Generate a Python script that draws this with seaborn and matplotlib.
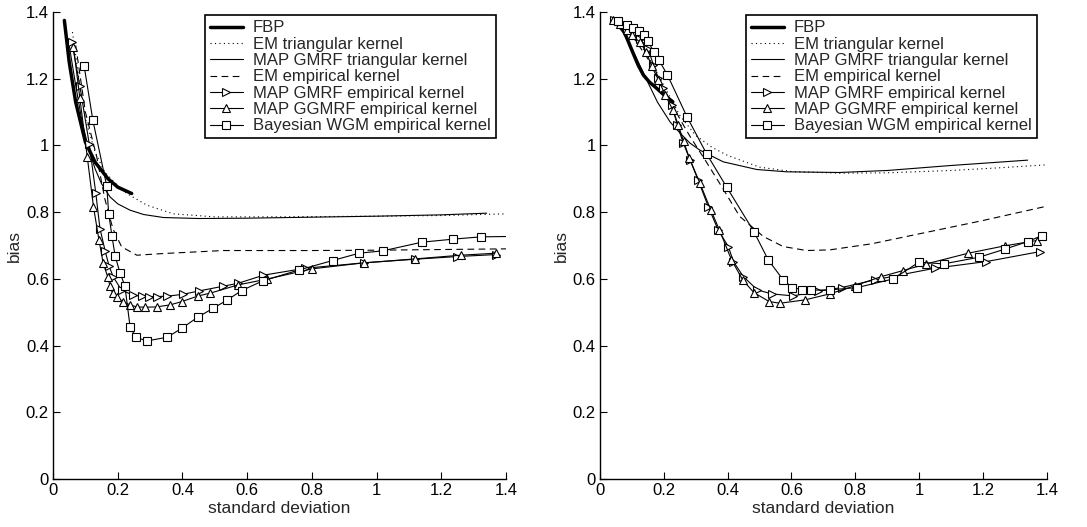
import matplotlib
matplotlib.use("Agg")
import matplotlib.pyplot as plt
import seaborn as sns

# ---- left panel ----
fbp_x_l = [0.035, 0.05, 0.07, 0.1, 0.13, 0.17, 0.2, 0.243]
fbp_y_l = [1.375, 1.25, 1.13, 1.01, 0.95, 0.9, 0.875, 0.856]

emtri_x_l = [0.06, 0.08, 0.1, 0.13, 0.16, 0.2, 0.228, 0.29, 0.372, 0.5, 0.7, 1.0, 1.2, 1.4]
emtri_y_l = [1.34, 1.2, 1.08, 0.98, 0.92, 0.88, 0.856, 0.821, 0.795, 0.786, 0.786, 0.788, 0.79, 0.795]

maptri_x_l = [0.05, 0.07, 0.09, 0.11, 0.13, 0.15, 0.176, 0.2, 0.238, 0.28, 0.341, 0.45, 0.6, 0.8, 1.0, 1.2, 1.34]
maptri_y_l = [1.3, 1.18, 1.07, 0.99, 0.93, 0.885, 0.846, 0.825, 0.806, 0.793, 0.784, 0.781, 0.782, 0.785, 0.788, 0.792, 0.797]

ememp_x_l = [0.07, 0.1, 0.135, 0.16, 0.185, 0.212, 0.259, 0.341, 0.526, 0.8, 1.0, 1.2, 1.4]
ememp_y_l = [1.3, 1.1, 0.966, 0.84, 0.75, 0.696, 0.671, 0.676, 0.685, 0.685, 0.686, 0.688, 0.69]

gmrf_x_l = [0.058, 0.083, 0.112, 0.132, 0.145, 0.161, 0.173, 0.186, 0.212, 0.248, 0.274, 0.298,
            0.32, 0.353, 0.403, 0.452, 0.526, 0.573, 0.65, 0.78, 0.96, 1.12, 1.25, 1.37]
gmrf_y_l = [1.311, 1.178, 1.004, 0.858, 0.751, 0.684, 0.639, 0.606, 0.566, 0.551, 0.548, 0.547,
            0.547, 0.548, 0.554, 0.564, 0.578, 0.587, 0.611, 0.632, 0.648, 0.659, 0.667, 0.673]

ggmrf_x_l = [0.063, 0.083, 0.106, 0.125, 0.142, 0.155, 0.169, 0.176, 0.184, 0.199, 0.215, 0.238, 0.259,
             0.284, 0.32, 0.362, 0.398, 0.449, 0.485, 0.572, 0.66, 0.8, 0.96, 1.12, 1.26, 1.37]
ggmrf_y_l = [1.296, 1.141, 0.964, 0.816, 0.716, 0.647, 0.606, 0.579, 0.557, 0.545, 0.532, 0.522, 0.516,
             0.515, 0.516, 0.522, 0.532, 0.549, 0.557, 0.582, 0.599, 0.63, 0.648, 0.66, 0.671, 0.677]

wgm_x_l = [0.096, 0.123, 0.166, 0.172, 0.182, 0.192, 0.207, 0.222, 0.238, 0.256, 0.29, 0.353, 0.398,
           0.447, 0.495, 0.539, 0.583, 0.648, 0.761, 0.864, 0.946, 1.019, 1.14, 1.235, 1.322, 1.4]
wgm_y_l = [1.239, 1.076, 0.878, 0.796, 0.729, 0.668, 0.618, 0.579, 0.457, 0.425, 0.414, 0.425, 0.452,
           0.485, 0.512, 0.537, 0.565, 0.594, 0.627, 0.655, 0.677, 0.684, 0.71, 0.719, 0.726, 0.727]

# ---- right panel ----
fbp_x_r = [0.042, 0.068, 0.085, 0.104, 0.12, 0.136, 0.155, 0.178, 0.2, 0.228]
fbp_y_r = [1.374, 1.356, 1.32, 1.276, 1.24, 1.211, 1.19, 1.171, 1.152, 1.131]

emtri_x_r = [0.05, 0.1, 0.15, 0.2, 0.25, 0.3, 0.35, 0.4, 0.5, 0.6, 0.75, 0.9, 1.1, 1.25, 1.4]
emtri_y_r = [1.375, 1.34, 1.27, 1.18, 1.09, 1.03, 0.995, 0.97, 0.935, 0.922, 0.917, 0.918, 0.925, 0.933, 0.942]

maptri_x_r = [0.04, 0.08, 0.11, 0.141, 0.18, 0.22, 0.251, 0.282, 0.313, 0.386, 0.491, 0.585, 0.75, 0.9, 1.1, 1.34]
maptri_y_r = [1.375, 1.33, 1.27, 1.207, 1.13, 1.07, 1.037, 1.007, 0.986, 0.951, 0.928, 0.921, 0.919, 0.925, 0.94, 0.956]

ememp_x_r = [0.05, 0.1, 0.15, 0.2, 0.25, 0.282, 0.329, 0.381, 0.438, 0.512, 0.574, 0.647, 0.72, 0.85, 1.0, 1.2, 1.4]
ememp_y_r = [1.375, 1.33, 1.26, 1.17, 1.08, 1.027, 0.957, 0.877, 0.787, 0.727, 0.697, 0.685, 0.687, 0.705, 0.735, 0.775, 0.818]

gmrf_x_r = [0.045, 0.065, 0.085, 0.105, 0.125, 0.151, 0.167, 0.183, 0.198, 0.225, 0.242, 0.261, 0.282, 0.308,
            0.339, 0.37, 0.402, 0.418, 0.449, 0.493, 0.538, 0.605, 0.684, 0.757, 0.861, 1.049, 1.211, 1.38]
gmrf_y_r = [1.375, 1.365, 1.35, 1.335, 1.32, 1.29, 1.242, 1.202, 1.172, 1.122, 1.062, 1.007, 0.957, 0.895,
            0.817, 0.747, 0.697, 0.652, 0.607, 0.567, 0.555, 0.549, 0.563, 0.574, 0.597, 0.632, 0.652, 0.682]

ggmrf_x_r = [0.04, 0.063, 0.085, 0.1, 0.125, 0.145, 0.162, 0.183, 0.205, 0.228, 0.245, 0.262, 0.28, 0.313, 0.347,
             0.374, 0.412, 0.447, 0.482, 0.53, 0.564, 0.642, 0.72, 0.80, 0.882, 0.95, 1.023, 1.154, 1.268, 1.368]
ggmrf_y_r = [1.377, 1.365, 1.345, 1.33, 1.31, 1.28, 1.237, 1.197, 1.15, 1.107, 1.062, 1.012, 0.962, 0.887, 0.807,
             0.747, 0.657, 0.597, 0.559, 0.532, 0.527, 0.537, 0.555, 0.58, 0.607, 0.625, 0.645, 0.677, 0.699, 0.715]

wgm_x_r = [0.057, 0.084, 0.104, 0.123, 0.138, 0.151, 0.169, 0.185, 0.211, 0.273, 0.334, 0.397, 0.482, 0.527,
           0.574, 0.603, 0.634, 0.661, 0.72, 0.806, 0.919, 0.999, 1.077, 1.188, 1.268, 1.341, 1.385]
wgm_y_r = [1.372, 1.362, 1.352, 1.342, 1.332, 1.312, 1.279, 1.255, 1.212, 1.085, 0.975, 0.875, 0.742, 0.657,
           0.597, 0.574, 0.568, 0.566, 0.567, 0.574, 0.6, 0.65, 0.645, 0.665, 0.689, 0.712, 0.73]

labels = ["FBP", "EM triangular kernel", "MAP GMRF triangular kernel", "EM empirical kernel",
          "MAP GMRF empirical kernel", "MAP GGMRF empirical kernel", "Bayesian WGM empirical kernel"]

sns.set_style("ticks")
plt.rcParams["font.family"] = ["Liberation Sans", "DejaVu Sans"]

fig = plt.figure(figsize=(10.87, 5.27), dpi=100)
ax_l = fig.add_axes([0.0488, 0.0911, 0.4167, 0.886])
ax_r = fig.add_axes([0.552, 0.0911, 0.411, 0.886])

mk = dict(markerfacecolor="white", markeredgecolor="k", markeredgewidth=0.8, markersize=5.5)


def line(ax, x, y, label, **kw):
    sns.lineplot(x=x, y=y, ax=ax, sort=False, estimator=None, color="k", label=label, **kw)


panels = [
    (ax_l, [(fbp_x_l, fbp_y_l), (emtri_x_l, emtri_y_l), (maptri_x_l, maptri_y_l), (ememp_x_l, ememp_y_l),
            (gmrf_x_l, gmrf_y_l), (ggmrf_x_l, ggmrf_y_l), (wgm_x_l, wgm_y_l)]),
    (ax_r, [(fbp_x_r, fbp_y_r), (emtri_x_r, emtri_y_r), (maptri_x_r, maptri_y_r), (ememp_x_r, ememp_y_r),
            (gmrf_x_r, gmrf_y_r), (ggmrf_x_r, ggmrf_y_r), (wgm_x_r, wgm_y_r)]),
]

for ax, series in panels:
    (x0, y0), (x1, y1), (x2, y2), (x3, y3), (x4, y4), (x5, y5), (x6, y6) = series
    line(ax, x0, y0, labels[0], linewidth=2.5)
    line(ax, x1, y1, labels[1], linewidth=0.8, linestyle=(0, (1, 3)))
    line(ax, x2, y2, labels[2], linewidth=0.8)
    line(ax, x3, y3, labels[3], linewidth=0.8, linestyle=(0, (6, 4)))
    line(ax, x4, y4, labels[4], linewidth=0.8, marker=">", **mk)
    line(ax, x5, y5, labels[5], linewidth=0.8, marker="^", **mk)
    line(ax, x6, y6, labels[6], linewidth=0.8, marker="s",
         markevery=list(range(len(x6) - 1)) if x6[-1] >= 1.4 else None, **mk)

    ax.set_xlim(0, 1.4)
    ax.set_ylim(0, 1.4)
    ax.set_xticks([0, 0.2, 0.4, 0.6, 0.8, 1, 1.2, 1.4])
    ax.set_xticklabels(["0", "0.2", "0.4", "0.6", "0.8", "1", "1.2", "1.4"])
    ax.set_yticks([0, 0.2, 0.4, 0.6, 0.8, 1, 1.2, 1.4])
    ax.set_yticklabels(["0", "0.2", "0.4", "0.6", "0.8", "1", "1.2", "1.4"])
    ax.tick_params(direction="in", length=5, width=0.8, labelsize=12, pad=3, colors="k")
    ax.set_xlabel("standard deviation", fontsize=12.5, labelpad=2)
    ax.set_ylabel("bias", fontsize=12.5, labelpad=3)
    sns.despine(ax=ax)
    for s in ["left", "bottom"]:
        ax.spines[s].set_linewidth(1)
        ax.spines[s].set_color("k")
    leg = ax.legend(loc="upper right", bbox_to_anchor=(0.985, 1.0), fontsize=12, frameon=True,
                    fancybox=False, framealpha=1, edgecolor="k", handlelength=2.0,
                    labelspacing=0.08, borderpad=0.3, handletextpad=0.6, borderaxespad=0.2)
    leg.get_frame().set_linewidth(1.2)

fig.savefig("out.png", dpi=100)
